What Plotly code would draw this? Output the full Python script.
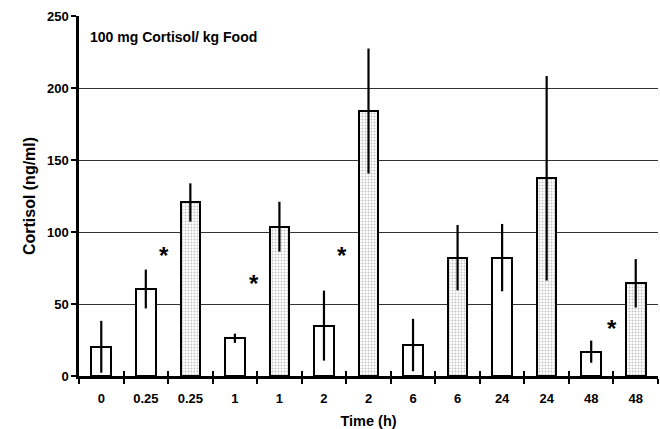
import plotly.graph_objects as go

tick_labels = ["0", "0.25", "0.25", "1", "1", "2", "2", "6", "6", "24", "24", "48", "48"]
values = [20.3, 60.4, 120.5, 26.2, 103.7, 35.0, 184.0, 21.5, 82.2, 82.2, 137.3, 16.9, 64.4]
errors = [18.0, 13.5, 13.3, 3.2, 17.3, 24.3, 43.4, 18.2, 22.7, 23.4, 71.0, 7.7, 16.8]
dotted = [False, False, True, False, True, False, True, False, True, False, True, False, True]
star_x = [1.41, 3.42, 5.41, 11.47]
star_y = [83.8, 64.5, 83.8, 32.9]

FONT = "Liberation Sans, Arial, sans-serif"
xs = list(range(len(values)))

fig = go.Figure()
for group, pattern in [(False, None), (True, ".")]:
    idx = [i for i in xs if dotted[i] == group]
    marker = dict(color="white", line=dict(color="black", width=2))
    if pattern:
        marker["pattern"] = dict(shape=".", size=3, solidity=0.35,
                                 fgcolor="#888888", bgcolor="white", fillmode="overlay")
    fig.add_trace(go.Bar(
        x=[xs[i] for i in idx], y=[values[i] for i in idx],
        error_y=dict(type="data", array=[errors[i] for i in idx], visible=True,
                     thickness=2.2, width=0, color="black"),
        marker=marker, width=0.44, showlegend=False))

# overlay axis for the inward half of crossing ticks
fig.add_trace(go.Scatter(x=[-0.5, 12.5], y=[0, 0], xaxis="x2", mode="lines",
                         line=dict(width=0), hoverinfo="skip", showlegend=False))

for sx, sy in zip(star_x, star_y):
    fig.add_annotation(x=sx, y=sy, text="*", showarrow=False,
                       font=dict(family=FONT, size=24, color="black", weight="bold"),
                       xanchor="center", yanchor="middle")

fig.add_annotation(x=0.016, xref="paper", y=235.5, text="100 mg Cortisol/ kg Food",
                   showarrow=False, xanchor="left", yanchor="middle",
                   font=dict(family=FONT, size=14, color="black", weight="bold"))

bounds = [i - 0.5 for i in range(len(values) + 1)]

fig.update_layout(
    width=660, height=429,
    margin=dict(l=79, r=2, t=16, b=53),
    paper_bgcolor="white", plot_bgcolor="white",
    bargap=0,
    xaxis=dict(range=[-0.5, 12.5], tickvals=xs, ticktext=tick_labels, ticks="",
               automargin=False, ticklabelstandoff=9,
               showgrid=False, zeroline=False, showline=True, linecolor="black", linewidth=2.5,
               tickfont=dict(family=FONT, size=13, color="black", weight="bold"),
               minor=dict(tickvals=bounds, ticks="outside", ticklen=5, tickwidth=2, tickcolor="black",
                          showgrid=False),
               title=dict(text="Time (h)", font=dict(family=FONT, size=14.5, color="black", weight="bold"),
                          standoff=12)),
    xaxis2=dict(range=[-0.5, 12.5], overlaying="x", side="bottom", anchor="y", automargin=False,
                tickvals=bounds, ticks="inside", ticklen=5, tickwidth=2, tickcolor="black",
                showticklabels=False, showgrid=False, zeroline=False, showline=False),
    yaxis=dict(range=[0, 250], tickvals=[0, 50, 100, 150, 200, 250], automargin=False,
               ticks="outside", ticklen=5, tickwidth=2, tickcolor="black",
               showgrid=True, gridcolor="#333", gridwidth=1,
               zeroline=False, showline=True, linecolor="black", linewidth=2.5,
               tickfont=dict(family=FONT, size=13, color="black", weight="bold"),
               title=dict(text="Cortisol (ng/ml)", font=dict(family=FONT, size=16, color="black", weight="bold"),
                          standoff=8)),
)

fig.write_html("out.html", config={"displayModeBar": False},
               post_script="document.body.style.margin='0';")
